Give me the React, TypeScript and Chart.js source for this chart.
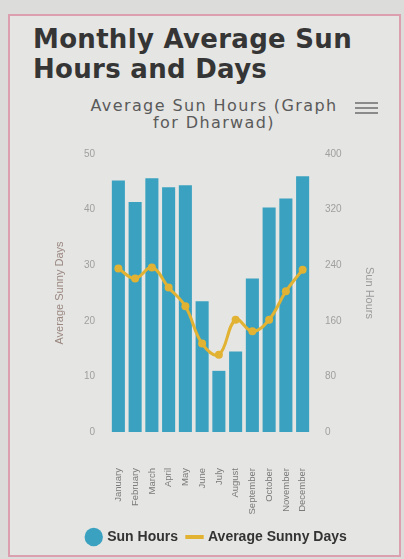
import React, { useEffect, useRef } from "react";
import { Chart, registerables } from "chart.js";

Chart.register(...registerables);

const months = [
  "January", "February", "March", "April", "May", "June",
  "July", "August", "September", "October", "November", "December",
];
const sunHours = [362, 331, 365, 352, 355, 188, 88, 116, 221, 323, 336, 368];
const sunnyDays = [29.4, 27.6, 29.6, 26, 22.6, 15.9, 13.9, 20.2, 18.1, 20.2, 25.3, 29.2];
const daysTicks = [0, 10, 20, 30, 40, 50];
const hoursTicks = [0, 80, 160, 240, 320, 400];

const BAR = "#3aa2c0";
const LINE = "#e2b232";

export default function App() {
  const ref = useRef<HTMLCanvasElement | null>(null);

  useEffect(() => {
    if (!ref.current) return;
    const chart = new Chart(ref.current, {
      type: "bar",
      data: {
        labels: months,
        datasets: [
          {
            type: "bar",
            label: "Sun Hours",
            data: sunHours,
            yAxisID: "y1",
            backgroundColor: BAR,
            borderWidth: 0,
            barPercentage: 0.78,
            categoryPercentage: 1,
            order: 2,
          },
          {
            type: "line",
            label: "Average Sunny Days",
            data: sunnyDays,
            yAxisID: "y",
            borderColor: LINE,
            backgroundColor: LINE,
            borderWidth: 3,
            tension: 0.4,
            pointRadius: 4,
            pointBorderWidth: 0,
            pointBackgroundColor: LINE,
            order: 1,
          } as any,
        ],
      },
      options: {
        animation: false,
        responsive: true,
        maintainAspectRatio: false,
        layout: { padding: { left: 24, right: 0, top: 6, bottom: 4 } },
        plugins: {
          title: { display: false },
          tooltip: { enabled: false },
          legend: {
            position: "bottom",
            labels: {
              usePointStyle: true,
              boxHeight: 13,
              boxWidth: 13,
              padding: 10,
              color: "#333333",
              font: { family: "'Liberation Sans', Arial, sans-serif", size: 14, weight: "bold" },
              sort: (a: any, b: any) => a.datasetIndex - b.datasetIndex,
              generateLabels: (c: any) => {
                const items = (Chart.defaults.plugins.legend.labels as any).generateLabels(c);
                return items.map((it: any) => {
                  if (it.datasetIndex === 1) {
                    return { ...it, pointStyle: "line", lineWidth: 4, strokeStyle: LINE };
                  }
                  return { ...it, pointStyle: "circle", lineWidth: 0 };
                });
              },
            },
          },
        },
        scales: {
          x: {
            grid: { display: false, drawTicks: false },
            border: { display: false },
            ticks: {
              minRotation: 90,
              maxRotation: 90,
              autoSkip: false,
              padding: 36,
              color: "#7a7a7a",
              font: { family: "'Liberation Sans', Arial, sans-serif", size: 9.5 },
            },
            afterFit: (s: any) => { s.height = 88; },
          },
          y: {
            position: "left",
            min: daysTicks[0],
            max: daysTicks[daysTicks.length - 1],
            grid: { display: false, drawTicks: false },
            border: { display: false },
            ticks: {
              stepSize: daysTicks[1] - daysTicks[0],
              padding: 15,
              color: "#a0a0a0",
              font: { family: "'Liberation Sans', Arial, sans-serif", size: 10 },
            },
            title: {
              display: true,
              text: "Average Sunny Days",
              color: "#9a8780",
              padding: { top: 19, bottom: 0 },
              font: { family: "'Liberation Sans', Arial, sans-serif", size: 11 },
            },
            afterFit: (s: any) => { s.width = 76; },
          },
          y1: {
            position: "right",
            min: hoursTicks[0],
            max: hoursTicks[hoursTicks.length - 1],
            grid: { display: false, drawTicks: false },
            border: { display: false },
            ticks: {
              stepSize: hoursTicks[1] - hoursTicks[0],
              padding: 14,
              color: "#a0a0a0",
              font: { family: "'Liberation Sans', Arial, sans-serif", size: 10 },
            },
            title: {
              display: true,
              text: "Sun Hours",
              color: "#9a9a9a",
              padding: { top: 24, bottom: 0 },
              font: { family: "'Liberation Sans', Arial, sans-serif", size: 11 },
            },
            afterFit: (s: any) => { s.width = 89; },
          },
        },
      },
    });
    return () => chart.destroy();
  }, []);

  return (
    <div style={{ position: "absolute", left: 0, top: 0, width: 404, height: 559, background: "#dcdcda", overflow: "hidden" }}>
      <div
        style={{
          position: "absolute",
          left: 8,
          top: 14,
          width: 393,
          height: 543,
          boxSizing: "border-box",
          border: "2px solid #dc9fb0",
          background: "#e5e5e3",
        }}
      />
      <div
        style={{
          position: "absolute",
          left: 33,
          top: 24,
          width: 360,
          fontFamily: "'DejaVu Sans', sans-serif",
          fontWeight: "bold",
          fontSize: 26,
          lineHeight: "30px",
          letterSpacing: "0.3px",
          color: "#353535",
        }}
      >
        Monthly Average Sun Hours and Days
      </div>
      <div
        style={{
          position: "absolute",
          left: 214,
          top: 97,
          transform: "translateX(-50%)",
          whiteSpace: "nowrap",
          textAlign: "center",
          fontFamily: "'DejaVu Sans', sans-serif",
          fontSize: 16,
          lineHeight: "17px",
          letterSpacing: "1.4px",
          color: "#5a5a5a",
        }}
      >
        Average Sun Hours (Graph
        <br />
        for Dharwad)
      </div>
      <div style={{ position: "absolute", left: 355, top: 102, width: 23, height: 2, background: "#8a8a8a" }} />
      <div style={{ position: "absolute", left: 355, top: 107, width: 23, height: 2, background: "#8a8a8a" }} />
      <div style={{ position: "absolute", left: 355, top: 112, width: 23, height: 2, background: "#8a8a8a" }} />
      <div style={{ position: "absolute", left: 10, top: 133, width: 390, height: 425 }}>
        <canvas ref={ref} />
      </div>
    </div>
  );
}
